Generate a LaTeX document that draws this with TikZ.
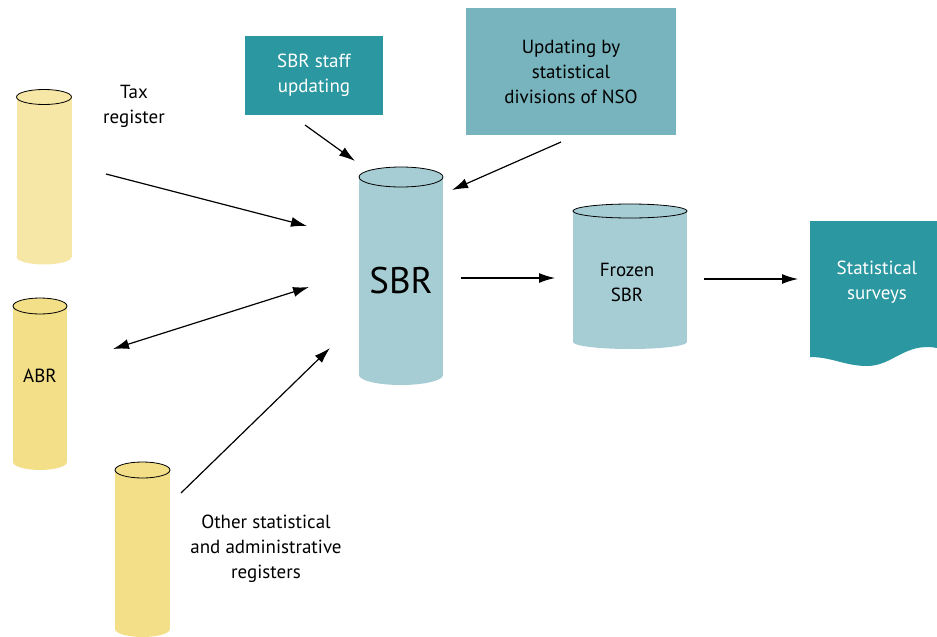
\documentclass[tikz,border=0pt]{standalone}
\usepackage{fontspec}
\setmainfont{PT Sans}
\usetikzlibrary{arrows.meta,positioning}

\definecolor{sbrblue}{HTML}{A6CDD4}
\definecolor{staffteal}{HTML}{2B97A0}
\definecolor{nsoblue}{HTML}{78B4BD}
\definecolor{regyellow}{HTML}{F4DF89}
\definecolor{taxyellow}{HTML}{F7E7A6}

% #1 name, #2 centre x, #3 top y, #4 half width, #5 bottom y, #6 colour, #7 y radius
\newcommand{\regcyl}[7]{%
  \fill[#6] (#2-#4,#3) rectangle (#2+#4,#5);
  \fill[#6] (#2,#5) ellipse [x radius=#4, y radius=#7];
  \fill[#6] (#2,#3) ellipse [x radius=#4, y radius=#7];
  \draw[line width=0.8pt] (#2,#3) ellipse [x radius=#4, y radius=#7];
  \coordinate (#1) at (#2,#3);
}

\begin{document}
\begin{tikzpicture}[x=1pt,y=-1pt,
    txt/.style={align=center,font=\fontsize{19}{25}\selectfont},
    arr/.style={line width=1.2pt,-{Latex[length=16pt,width=10pt]}},
    biarr/.style={line width=1.2pt,{Latex[length=16pt,width=10pt]}-{Latex[length=16pt,width=10pt]}}]
  \useasboundingbox (0,0) rectangle (937,637);
  % registers
  \regcyl{tax}{44}{97}{27.5}{257}{taxyellow}{7.5}
  \regcyl{abr}{40}{306}{27}{462}{regyellow}{8}
  \regcyl{other}{142.5}{470}{27.5}{629}{regyellow}{8}
  \regcyl{sbr}{401}{177}{42}{375}{sbrblue}{10}
  \regcyl{frozen}{630}{211}{57}{342}{sbrblue}{7}
  % survey document
  \fill[staffteal] (810,221) -- (937,221) -- (937,348)
    .. controls (905,342) and (893,366) .. (867,366)
    .. controls (845,366) and (832,357) .. (810,357) -- cycle;
  % boxes
  \node[txt,fill=staffteal,text=white,minimum width=138,minimum height=79] (staff) at (314,75.5) {SBR staff\\updating};
  \node[txt,fill=nsoblue,minimum width=210,minimum height=127] (nso) at (571,71.5) {Updating by\\statistical\\divisions of NSO};
  % labels
  \node[txt] (tax_lbl) at (134,106) {Tax\\register};
  \node[txt] (abr_lbl) at (40,376) {ABR};
  \node[txt] (other_lbl) at (266,548.5) {Other statistical\\and administrative\\registers};
  \node[align=center,font=\fontsize{37}{40}\selectfont] (sbr_lbl) at (401,281) {SBR};
  \node[txt] (frozen_lbl) at (627,282) {Frozen\\SBR};
  \node[txt,text=white] (survey_lbl) at (877,282.5) {Statistical\\surveys};
  % arrow ends
  \coordinate (tax_out) at (106,174);
  \coordinate (tax_in) at (307,226);
  \coordinate (abr_out) at (113,349);
  \coordinate (abr_in) at (309,287);
  \coordinate (other_out) at (181,493);
  \coordinate (other_in) at (330,348);
  \coordinate (staff_out) at (305,125);
  \coordinate (staff_in) at (355,161);
  \coordinate (nso_out) at (561,142);
  \coordinate (nso_in) at (452,190);
  \coordinate (sbr_out) at (461,278);
  \coordinate (frozen_in) at (555,278);
  \coordinate (frozen_out) at (704,279);
  \coordinate (survey_in) at (798,279);
  \path
    (tax_out) edge[arr] (tax_in)
    (abr_out) edge[biarr] (abr_in)
    (other_out) edge[arr] (other_in)
    (staff_out) edge[arr] (staff_in)
    (nso_out) edge[arr] (nso_in)
    (sbr_out) edge[arr] (frozen_in)
    (frozen_out) edge[arr] (survey_in);
\end{tikzpicture}
\end{document}
